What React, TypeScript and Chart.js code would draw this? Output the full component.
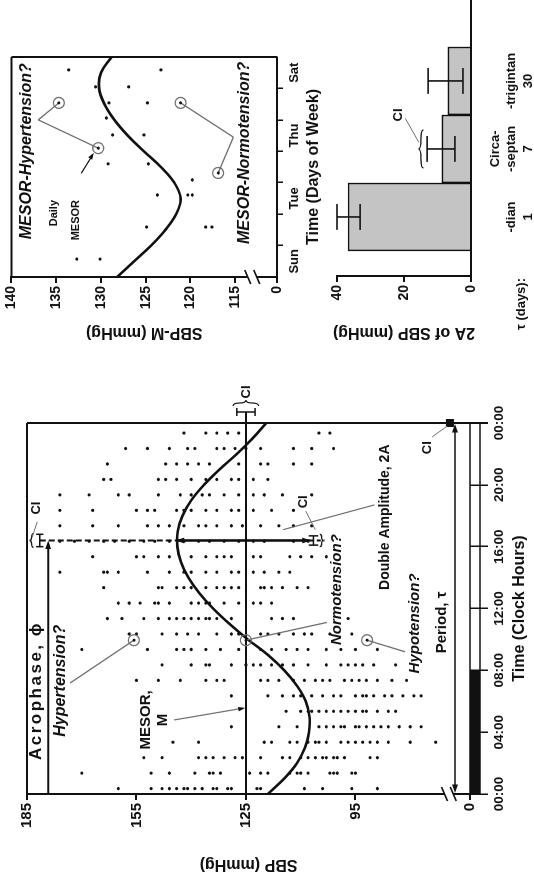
import React, { useEffect, useRef } from "react";
import { Chart, registerables } from "chart.js";

Chart.register(...registerables);

const FAMILY = "'Liberation Sans', Arial, Helvetica, sans-serif";
const INK = "#111111";
const LEADER = "#707070";
const BAR_FILL = "#c4c4c4";

// ---------- Circadian panel: systolic readings (mmHg), one list per clock hour ----------
const hour00 = [160, 151, 148, 146, 144, 142, 141, 139, 137, 134, 133, 130, 129, 122, 121, 109, 104, 96, 89];
const hour01 = [170, 151, 146, 139, 135, 134, 132, 124, 121, 119, 113, 111, 110, 108, 102, 101, 100, 96, 95];
const hour02 = [153, 148, 138, 136, 134, 131, 128, 126, 121, 115, 113, 110, 108, 106, 104, 103, 101, 100, 98, 91, 89];
const hour03 = [145, 138, 120, 118, 113, 111, 108, 106, 105, 103, 99, 97, 95, 93, 91, 89, 86, 80, 73];
const hour04 = [129, 116, 111, 105, 103, 101, 99, 98, 95, 94, 92, 90, 88, 86, 83, 80, 77];
const hour05 = [114, 110, 108, 107, 105, 103, 101, 99, 97, 95, 93, 92, 89, 86, 84];
const hour06 = [129, 119, 115, 112, 110, 107, 104, 101, 99, 95, 93, 92, 90, 87, 85, 82, 79, 77];
const hour07 = [155, 149, 143, 136, 133, 131, 121, 119, 116, 112, 109, 106, 104, 102, 98, 96, 94, 92, 89, 85, 81];
const hour08 = [148, 140, 136, 135, 129, 125, 123, 121, 118, 115, 112, 108, 103, 99, 97, 95, 93, 90, 84];
const hour09 = [170, 152, 144, 142, 140, 136, 132, 127, 121, 118, 114, 111, 108, 103, 99, 95, 89];
const hour10 = [157, 155, 148, 144, 141, 138, 133, 129, 127, 121, 119, 116, 112, 109, 107, 102, 96];
const hour11 = [163, 159, 153, 149, 146, 144, 142, 140, 138, 136, 135, 133, 129, 118, 115, 112, 97];
const hour12 = [160, 157, 154, 150, 149, 146, 140, 138, 136, 135, 131, 127, 123, 121, 118];
const hour13 = [164, 149, 148, 144, 142, 140, 136, 133, 131, 129, 127, 121, 120, 118, 115, 111, 108];
const hour14 = [176, 164, 163, 160, 152, 146, 142, 140, 136, 133, 129, 127, 123, 120, 116, 113];
const hour15 = [167, 155, 153, 149, 146, 140, 136, 133, 131, 129, 123, 121, 113, 110, 107, 103];
const hour16 = [176, 172, 168, 164, 161, 157, 153, 150, 146, 142, 138, 135, 131, 127, 123, 120, 112, 108];
const hour17 = [176, 167, 160, 152, 149, 146, 142, 138, 136, 133, 129, 126, 121, 116, 112, 107];
const hour18 = [176, 167, 155, 152, 150, 144, 142, 140, 136, 133, 129, 127, 123, 118, 112];
const hour19 = [176, 168, 160, 157, 149, 143, 140, 137, 135, 131, 127, 123, 120, 115, 107];
const hour20 = [164, 162, 149, 147, 144, 140, 136, 133, 129, 127, 123, 119];
const hour21 = [163, 147, 144, 141, 138, 135, 127, 121, 119, 112, 107];
const hour22 = [158, 152, 146, 141, 139, 133, 131, 128, 125, 121, 112, 107, 101];
const hour23 = [142, 136, 133, 130, 127, 105, 102];
const hourlyReadings = [
  hour00, hour01, hour02, hour03, hour04, hour05, hour06, hour07, hour08, hour09, hour10, hour11,
  hour12, hour13, hour14, hour15, hour16, hour17, hour18, hour19, hour20, hour21, hour22, hour23,
];
const READING_OFFSET_H = 0.35;

// fitted 24-h cosine, read hour by hour
const fitHour = [0, 1, 2, 3, 4, 5, 6, 7, 8, 9, 10, 11, 12, 13, 14, 15, 16, 17, 18, 19, 20, 21, 22, 23, 24];
const fitSBP = [119, 114.5, 111, 108.8, 107.7, 107.6, 108.6, 111, 114.5, 119, 124.5, 129.5, 134, 137.8, 140.8, 142.8, 143.8, 143.7, 142.4, 140, 136.5, 132.2, 127.5, 123.2, 119.4];

const MESOR = 125;
const ACROPHASE_H = 16.4;
const PEAK_SBP = 144;
const TROUGH_SBP = 107.5;
const circledHour = 9.95;
const circledSBP = [155.7, 125, 91.8];
const sbpTicks = [63.6, 95, 125, 155, 185];

// ---------- Weekly panel: daily MESORs ----------
const weekDay = [0.57, 0.57, 1.59, 1.59, 1.59, 2.61, 2.61, 2.61, 3.09, 3.6, 3.6, 4.52, 4.52, 5.06, 5.54, 5.54, 6.05, 6.05, 6.59, 6.59];
const weekSBP = [132.7, 130.1, 124.9, 118.3, 117.6, 123.7, 120.3, 119.8, 119.8, 129.2, 124.7, 128.7, 125.2, 129.4, 129.1, 124.8, 130.6, 126.9, 133.6, 123.3];
const weekFitDay = [0, 0.5, 1, 1.5, 2, 2.5, 3, 3.5, 4, 4.5, 5, 5.5, 6, 6.5, 7];
const weekFitSBP = [128.2, 126.3, 124.4, 122.8, 121.6, 121.1, 121.8, 123.3, 125.2, 127.0, 128.5, 129.6, 130.2, 130.0, 128.8];
const weekRingDay = [5.54, 4.1, 5.54, 3.31];
const weekRingSBP = [134.7, 130.3, 121.1, 116.9];
const weekTicks = [110.33, 115, 120, 125, 130, 135, 140];
const dayNames: Record<number, string> = { 0.5: "Sun", 2.5: "Tue", 4.5: "Thu", 6.5: "Sat" };

// ---------- Period panel: double amplitude by period ----------
const periodPrefix = ["", "Circa-", ""];
const periodSuffix = ["-dian", "-septan", "-trigintan"];
const periodDays = ["1", "7", "30"];
const doubleAmp = [36.7, 8.7, 6.9];
const ampLow = [33.1, 4.8, 2.4];
const ampHigh = [40, 13.1, 12.8];

type Ctx = CanvasRenderingContext2D;

function seg(ctx: Ctx, x1: number, y1: number, x2: number, y2: number, w = 1.5, color = INK, dash: number[] = []) {
  ctx.save();
  ctx.beginPath();
  ctx.setLineDash(dash);
  ctx.lineWidth = w;
  ctx.strokeStyle = color;
  ctx.moveTo(x1, y1);
  ctx.lineTo(x2, y2);
  ctx.stroke();
  ctx.restore();
}

function head(ctx: Ctx, fx: number, fy: number, tx: number, ty: number, size = 8, color = INK) {
  const ang = Math.atan2(ty - fy, tx - fx);
  ctx.save();
  ctx.fillStyle = color;
  ctx.beginPath();
  ctx.moveTo(tx, ty);
  ctx.lineTo(tx - size * Math.cos(ang - 0.33), ty - size * Math.sin(ang - 0.33));
  ctx.lineTo(tx - size * Math.cos(ang + 0.33), ty - size * Math.sin(ang + 0.33));
  ctx.closePath();
  ctx.fill();
  ctx.restore();
}

function say(
  ctx: Ctx,
  s: string,
  x: number,
  y: number,
  size: number,
  opt: { italic?: boolean; align?: CanvasTextAlign; spacing?: number } = {}
) {
  ctx.save();
  ctx.font = `${opt.italic ? "italic " : ""}bold ${size}px ${FAMILY}`;
  (ctx as any).letterSpacing = `${opt.spacing ?? 0}px`;
  ctx.fillStyle = INK;
  ctx.textAlign = opt.align ?? "center";
  ctx.textBaseline = "middle";
  ctx.fillText(s, x, y);
  ctx.restore();
}

function ring(ctx: Ctx, x: number, y: number) {
  ctx.save();
  ctx.strokeStyle = LEADER;
  ctx.lineWidth = 1.3;
  ctx.beginPath();
  ctx.arc(x, y, 5.5, 0, Math.PI * 2);
  ctx.stroke();
  ctx.fillStyle = INK;
  ctx.beginPath();
  ctx.arc(x, y, 1.5, 0, Math.PI * 2);
  ctx.fill();
  ctx.restore();
}

// curly brace along x from x1 to x2, tip offset by d (negative = upwards)
function hbrace(ctx: Ctx, x1: number, x2: number, y: number, d: number, color = INK) {
  const m = (x1 + x2) / 2;
  ctx.save();
  ctx.strokeStyle = color;
  ctx.lineWidth = 1.2;
  ctx.beginPath();
  ctx.moveTo(x1, y);
  ctx.quadraticCurveTo(x1, y + d * 0.5, (x1 + m) / 2, y + d * 0.5);
  ctx.quadraticCurveTo(m, y + d * 0.5, m, y + d);
  ctx.quadraticCurveTo(m, y + d * 0.5, (x2 + m) / 2, y + d * 0.5);
  ctx.quadraticCurveTo(x2, y + d * 0.5, x2, y);
  ctx.stroke();
  ctx.restore();
}

function vbrace(ctx: Ctx, x: number, y1: number, y2: number, d: number, color = INK) {
  const m = (y1 + y2) / 2;
  ctx.save();
  ctx.strokeStyle = color;
  ctx.lineWidth = 1.2;
  ctx.beginPath();
  ctx.moveTo(x, y1);
  ctx.quadraticCurveTo(x + d * 0.5, y1, x + d * 0.5, (y1 + m) / 2);
  ctx.quadraticCurveTo(x + d * 0.5, m, x + d, m);
  ctx.quadraticCurveTo(x + d * 0.5, m, x + d * 0.5, (y2 + m) / 2);
  ctx.quadraticCurveTo(x + d * 0.5, y2, x, y2);
  ctx.stroke();
  ctx.restore();
}

function axisBreakV(ctx: Ctx, x: number, yA: number, yB: number) {
  ctx.save();
  ctx.fillStyle = "#ffffff";
  ctx.fillRect(x - 3, Math.min(yA, yB), 6, Math.abs(yB - yA));
  ctx.restore();
  seg(ctx, x - 7, yA + 3, x + 7, yA - 3, 1.6);
  seg(ctx, x - 7, yB + 3, x + 7, yB - 3, 1.6);
}

const valueFont = { family: FAMILY, size: 15, weight: "bold" as const };
const tickFont = { family: FAMILY, size: 13, weight: "bold" as const };
const titleFont = { family: FAMILY, size: 16, weight: "bold" as const };

const circadianOverlay = {
  id: "circadianOverlay",
  afterDatasetsDraw(chart: any) {
    const { ctx, chartArea: a } = chart;
    const X = (h: number) => chart.scales.x.getPixelForValue(h);
    const Y = (v: number) => chart.scales.y.getPixelForValue(v);

    // frame (top and right); right edge runs through the clock strip
    seg(ctx, a.left, a.top, a.right, a.top, 2);
    seg(ctx, a.right, a.top, a.right, a.bottom + 18, 2);

    // clock strip with the night span filled
    ctx.save();
    ctx.fillStyle = INK;
    ctx.fillRect(X(0), a.bottom, X(8) - X(0), 10);
    ctx.restore();
    seg(ctx, a.left, a.bottom, a.right, a.bottom, 1.5);
    seg(ctx, a.left, a.bottom + 10, a.right, a.bottom + 10, 1.5);
    seg(ctx, a.left, a.bottom, a.left, a.bottom + 10, 1.5);

    axisBreakV(ctx, a.left, Y(70.6), Y(68.2));

    // MESOR line and its CI
    const yM = Y(MESOR);
    const xCI = a.right + 11;
    seg(ctx, a.left, yM, xCI, yM, 2);
    seg(ctx, xCI, Y(127.5), xCI, Y(122.5), 1.5);
    seg(ctx, xCI - 4, Y(127.5), xCI + 4, Y(127.5), 1.5);
    seg(ctx, xCI - 4, Y(122.5), xCI + 4, Y(122.5), 1.5);
    vbrace(ctx, xCI + 6, Y(128.5), Y(121.5), 6);
    say(ctx, "CI", a.right + 31, yM, 13);

    // acrophase: dashed reference, double-amplitude arrow
    const xA = X(ACROPHASE_H);
    seg(ctx, xA, Y(181.5), xA, Y(PEAK_SBP), 2, INK, [6, 3]);
    seg(ctx, xA, Y(TROUGH_SBP), xA, Y(103.5), 2, INK, [4, 3]);
    seg(ctx, xA, Y(PEAK_SBP), xA, Y(TROUGH_SBP), 2.6);
    head(ctx, xA, Y(TROUGH_SBP), xA, Y(PEAK_SBP) - 1, 9);
    head(ctx, xA, Y(PEAK_SBP), xA, Y(TROUGH_SBP) + 1, 9);

    // acrophase CI (top)
    seg(ctx, X(16.0), Y(181.5), X(16.8), Y(181.5), 1.5);
    seg(ctx, X(16.0), Y(182.5), X(16.0), Y(180.5), 1.5);
    seg(ctx, X(16.8), Y(182.5), X(16.8), Y(180.5), 1.5);
    hbrace(ctx, X(15.95), X(16.85), Y(183.2), -4);
    seg(ctx, X(16.6), Y(183.6), X(17.6), Y(182.2), 1, LEADER);
    say(ctx, "CI", X(18.5), Y(182.5), 13);

    // double-amplitude CI (bottom of arrow)
    seg(ctx, X(16.1), Y(106.5), X(16.7), Y(106.5), 1.5);
    seg(ctx, X(16.1), Y(107.8), X(16.1), Y(105.2), 1.5);
    seg(ctx, X(16.7), Y(107.8), X(16.7), Y(105.2), 1.5);
    hbrace(ctx, X(16.0), X(16.8), Y(104.8), 4);
    say(ctx, "CI", X(18.9), Y(109.3), 13);
    seg(ctx, X(17.1), Y(106), X(18.3), Y(108.6), 1, LEADER);
    seg(ctx, X(17.1), Y(114.8), X(18.7), Y(89.8), 1.2, LEADER);
    say(ctx, "Double Amplitude, 2A", X(13.2), Y(86.9), 14, { align: "left" });

    // acrophase arrow from midnight
    const yPhi = Y(179.2);
    seg(ctx, X(0), yPhi, xA - 4, yPhi, 2);
    head(ctx, X(0), yPhi, xA, yPhi, 9);
    say(ctx, "Acrophase,", X(2.2), Y(182.4), 17, { align: "left", spacing: 2.5 });
    say(ctx, "\u03d5", X(10.2), Y(182.4), 17, { align: "left" });

    // period arrow with its CI
    const yTau = Y(67.7);
    seg(ctx, X(0) + 4, yTau, X(24) - 4, yTau, 1.6);
    head(ctx, X(24), yTau, X(0) + 1, yTau, 9);
    head(ctx, X(0), yTau, X(24) - 1, yTau, 9);
    ctx.save();
    ctx.fillStyle = INK;
    ctx.fillRect(X(24) - 4, Y(69.1) - 4, 8, 8);
    ctx.restore();
    seg(ctx, X(24) - 3, Y(69.8), X(23.1), Y(74.0), 1, LEADER);
    say(ctx, "CI", X(22.4), Y(75.3), 13);
    say(ctx, "Period, \u03c4", X(9.1), Y(71.2), 15, { align: "left" });

    // MESOR label
    say(ctx, "MESOR,", X(4.79), Y(152.4), 15);
    say(ctx, "M", X(4.79), Y(147.7), 15);
    seg(ctx, X(4.79), Y(144.7), X(5.56), Y(MESOR) - 2, 1.2, LEADER);
    head(ctx, X(4.79), Y(144.7), X(5.56), Y(MESOR) - 1, 7, INK);

    // circled readings and their labels
    const rc = circledSBP.map((v) => [X(circledHour), Y(v)]);
    seg(ctx, rc[0][0], rc[0][1], X(7.18), Y(173.2), 1.3, LEADER);
    seg(ctx, rc[1][0], rc[1][1], X(11.1), Y(102.8), 1.3, LEADER);
    seg(ctx, rc[2][0], rc[2][1], X(9.2), Y(81.4), 1.3, LEADER);
    rc.forEach(([x, y]) => ring(ctx, x, y));
    say(ctx, "Hypertension?", X(3.7), Y(175.7), 16, { italic: true, align: "left" });
    say(ctx, "Normotension?", X(9.64), Y(100), 15, { italic: true, align: "left" });
    say(ctx, "Hypotension?", X(7.8), Y(78.7), 15, { italic: true, align: "left" });
  },
};

const weeklyOverlay = {
  id: "weeklyOverlay",
  afterDatasetsDraw(chart: any) {
    const { ctx, chartArea: a } = chart;
    const X = (d: number) => chart.scales.x.getPixelForValue(d);
    const Y = (v: number) => chart.scales.y.getPixelForValue(v);
    seg(ctx, a.left, a.top, a.right, a.top, 2);
    seg(ctx, a.right, a.top, a.right, a.bottom, 2);
    axisBreakV(ctx, a.left, Y(113.6), Y(112.6));

    const r = weekRingDay.map((d, i) => [X(d), Y(weekRingSBP[i])]);
    // hypertension leaders (V shape)
    seg(ctx, X(5.0), Y(137.0), r[0][0], r[0][1], 1.3, LEADER);
    seg(ctx, X(5.0), Y(137.0), r[1][0], r[1][1], 1.3, LEADER);
    // normotension leaders
    seg(ctx, r[2][0], r[2][1], X(4.45), Y(115.2), 1.3, LEADER);
    seg(ctx, X(4.45), Y(115.2), r[3][0], r[3][1], 1.3, LEADER);
    r.forEach(([x, y]) => ring(ctx, x, y));

    say(ctx, "MESOR-Hypertension?", X(4.0), Y(138.3), 16, { italic: true });
    say(ctx, "MESOR-Normotension?", X(3.95), Y(114.0), 16, { italic: true });
    say(ctx, "Daily", X(2.45), Y(135.3), 11, { align: "right" });
    say(ctx, "MESOR", X(2.45), Y(132.8), 11, { align: "right" });
    seg(ctx, X(3.3), Y(132.2), X(3.85), Y(131.0), 1.3, INK);
    head(ctx, X(3.3), Y(132.2), X(3.95), Y(130.8), 7);
  },
};

const periodOverlay = {
  id: "periodOverlay",
  afterDatasetsDraw(chart: any) {
    const { ctx, chartArea: a } = chart;
    const X = (i: number) => chart.scales.x.getPixelForValue(i);
    const Y = (v: number) => chart.scales.y.getPixelForValue(v);
    const cap = 0.19;
    doubleAmp.forEach((_, i) => {
      seg(ctx, X(i), Y(ampLow[i]), X(i), Y(ampHigh[i]), 1.6);
      seg(ctx, X(i - cap), Y(ampLow[i]), X(i + cap), Y(ampLow[i]), 1.6);
      seg(ctx, X(i - cap), Y(ampHigh[i]), X(i + cap), Y(ampHigh[i]), 1.6);
    });
    hbrace(ctx, X(0.72), X(1.28), Y(14.2), -5);
    seg(ctx, X(1.1), Y(15.6), X(1.45), Y(19.6), 1, LEADER);
    say(ctx, "CI", X(1.5), Y(21.8), 13);
    say(ctx, "\u03c4 (days):", a.left - 2, a.bottom + 50, 13, { align: "right" });
  },
};

export default function App() {
  const mainRef = useRef<HTMLCanvasElement | null>(null);
  const weekRef = useRef<HTMLCanvasElement | null>(null);
  const barRef = useRef<HTMLCanvasElement | null>(null);

  useEffect(() => {
    const readings = hourlyReadings.flatMap((row, h) => row.map((v) => ({ x: h + READING_OFFSET_H, y: v })));
    const fit = fitHour.map((h, i) => ({ x: h, y: fitSBP[i] }));

    const main = new Chart(mainRef.current!, {
      type: "scatter",
      data: {
        datasets: [
          { data: readings, pointRadius: 1.6, pointBackgroundColor: INK, pointBorderWidth: 0 },
          { data: fit, showLine: true, borderColor: INK, borderWidth: 2.6, pointRadius: 0, tension: 0.4 },
        ],
      },
      options: {
        animation: false,
        responsive: false,
        devicePixelRatio: 1,
        events: [],
        layout: { padding: { top: 27, right: 45, left: 0, bottom: 0 } },
        plugins: { legend: { display: false }, tooltip: { enabled: false } },
        scales: {
          x: {
            type: "linear",
            min: 0,
            max: 24,
            afterFit: (s: any) => { s.height = 64; },
            border: { display: false },
            grid: { drawOnChartArea: false, tickLength: 18, color: INK, lineWidth: 1.5 },
            ticks: {
              stepSize: 4,
              autoSkip: false,
              maxRotation: 0,
              padding: 3,
              color: INK,
              font: { ...tickFont, size: 13.5 },
              callback: (v: any) => `${String(Number(v) % 24).padStart(2, "0")}:00`,
            },
            title: { display: true, text: "Time (Clock Hours)", color: INK, font: titleFont, padding: { top: 0, bottom: 5 } },
          },
          y: {
            min: sbpTicks[0],
            max: 185,
            afterFit: (s: any) => { s.width = 84; },
            afterBuildTicks: (s: any) => { s.ticks = sbpTicks.map((v) => ({ value: v })); },
            border: { color: INK, width: 2 },
            grid: { drawOnChartArea: false, tickLength: 6, color: INK, lineWidth: 2 },
            ticks: { color: INK, font: valueFont, padding: 3, callback: (v: any) => (Number(v) < 90 ? "0" : String(v)) },
            title: { display: true, text: "SBP (mmHg)", color: INK, font: titleFont, padding: { top: 4, bottom: 0 } },
          },
        },
      },
      plugins: [circadianOverlay],
    });

    const week = new Chart(weekRef.current!, {
      type: "scatter",
      data: {
        datasets: [
          { data: weekDay.map((d, i) => ({ x: d, y: weekSBP[i] })), pointRadius: 1.6, pointBackgroundColor: INK, pointBorderWidth: 0 },
          { data: weekFitDay.map((d, i) => ({ x: d, y: weekFitSBP[i] })), showLine: true, borderColor: INK, borderWidth: 2.6, pointRadius: 0, tension: 0.4 },
        ],
      },
      options: {
        animation: false,
        responsive: false,
        devicePixelRatio: 1,
        events: [],
        layout: { padding: { top: 10, right: 57, left: 0, bottom: 0 } },
        plugins: { legend: { display: false }, tooltip: { enabled: false } },
        scales: {
          x: {
            type: "linear",
            min: 0,
            max: 7,
            afterFit: (s: any) => { s.height = 48; },
            afterBuildTicks: (s: any) => {
              s.ticks = [0.5, 1, 2, 2.5, 3, 4, 4.5, 5, 6, 6.5].map((v) => ({ value: v }));
            },
            border: { color: INK, width: 2 },
            grid: {
              drawOnChartArea: false,
              tickLength: 6,
              lineWidth: 1.5,
              tickColor: (c: any) => (Number.isInteger(c.tick?.value) ? INK : "rgba(0,0,0,0)"),
            },
            ticks: { autoSkip: false, maxRotation: 0, padding: 4, color: INK, font: tickFont, callback: (v: any) => dayNames[Number(v)] ?? "" },
            title: { display: true, text: "Time (Days of Week)", color: INK, font: titleFont, padding: { top: 0, bottom: 2 } },
          },
          y: {
            min: weekTicks[0],
            max: 140,
            afterFit: (s: any) => { s.width = 101; },
            afterBuildTicks: (s: any) => { s.ticks = weekTicks.map((v) => ({ value: v })); },
            border: { color: INK, width: 2 },
            grid: { drawOnChartArea: false, tickLength: 6, color: INK, lineWidth: 2 },
            ticks: { color: INK, font: { ...valueFont, size: 14 }, padding: 3, callback: (v: any) => (Number(v) < 112 ? "0" : String(v)) },
            title: { display: true, text: "SBP-M (mmHg)", color: INK, font: titleFont, padding: { top: 36, bottom: 0 } },
          },
        },
      },
      plugins: [weeklyOverlay],
    });

    const bars = new Chart(barRef.current!, {
      type: "bar",
      data: {
        datasets: [
          {
            data: doubleAmp.map((v, i) => ({ x: i, y: v })),
            backgroundColor: BAR_FILL,
            borderColor: INK,
            borderWidth: 1.6,
            borderSkipped: "start",
            barPercentage: 1,
            categoryPercentage: 1,
          },
        ],
      },
      options: {
        animation: false,
        responsive: false,
        devicePixelRatio: 1,
        events: [],
        layout: { padding: { top: 12, right: 0, left: 0, bottom: 0 } },
        plugins: { legend: { display: false }, tooltip: { enabled: false } },
        scales: {
          x: {
            type: "linear",
            min: -0.868,
            max: 3.19,
            offset: false,
            afterFit: (s: any) => { s.height = 63; },
            afterBuildTicks: (s: any) => { s.ticks = [0, 1, 2].map((v) => ({ value: v })); },
            border: { color: INK, width: 2 },
            grid: { display: false },
            ticks: {
              autoSkip: false,
              maxRotation: 0,
              padding: 8,
              color: INK,
              font: { ...tickFont, lineHeight: 1.27 },
              callback: (v: any) => [periodPrefix[Number(v)], periodSuffix[Number(v)], periodDays[Number(v)]],
            },
          },
          y: {
            min: 0,
            max: 40,
            afterFit: (s: any) => { s.width = 102; },
            border: { color: INK, width: 2 },
            grid: { drawOnChartArea: false, tickLength: 6, color: INK, lineWidth: 2 },
            ticks: { stepSize: 20, color: INK, font: { ...valueFont, size: 14 }, padding: 3 },
            title: { display: true, text: "2A of SBP (mmHg)", color: INK, font: titleFont, padding: { top: 36, bottom: 0 } },
          },
        },
      },
      plugins: [periodOverlay],
    });

    return () => {
      main.destroy();
      week.destroy();
      bars.destroy();
    };
  }, []);

  const abs = (left: number, top: number, width: number, height: number): React.CSSProperties => ({
    position: "absolute",
    left,
    top,
    width,
    height,
  });

  return (
    <div style={{ position: "fixed", left: 0, top: 0, width: 534, height: 878, overflow: "hidden", background: "#ffffff" }}>
      <div
        style={{
          position: "absolute",
          left: 0,
          top: 0,
          width: 878,
          height: 534,
          transformOrigin: "0 0",
          transform: "translate(0px, 878px) rotate(-90deg)",
        }}
      >
        <canvas ref={mainRef} width={500} height={534} style={abs(0, 0, 500, 534)} />
        <canvas ref={weekRef} width={378} height={325} style={abs(500, 0, 378, 325)} />
        <canvas ref={barRef} width={378} height={209} style={abs(500, 325, 378, 209)} />
      </div>
    </div>
  );
}
